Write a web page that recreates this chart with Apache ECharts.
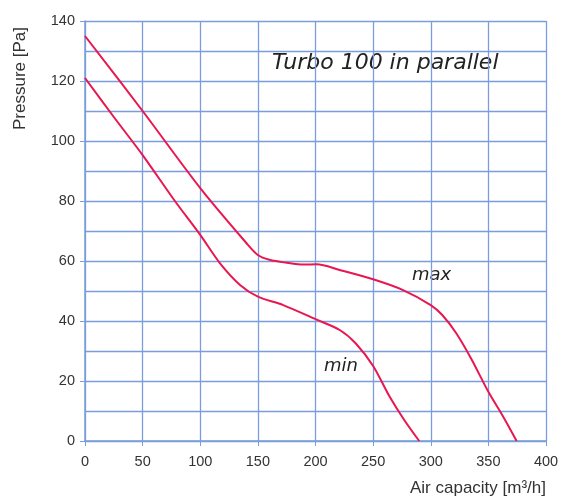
<!DOCTYPE html>
<html>
<head>
<meta charset="utf-8">
<script src="https://cdn.jsdelivr.net/npm/echarts@6/dist/echarts.min.js"></script>
<style>html,body{margin:0;padding:0;background:#fff}#c{width:562px;height:503px}</style>
</head>
<body>
<div id="c"></div>
<script>
var maxFlow = [0, 50, 100, 140, 150, 160, 175, 190, 201, 221, 250, 276, 300, 310, 322, 335, 350, 363, 374.5];
var maxPressure = [135, 110, 84.3, 66, 62, 60.4, 59.4, 58.8, 58.9, 57, 53.9, 50.3, 45.3, 42, 36, 27.5, 16.4, 8, 0];
var minFlow = [0, 25, 50, 78, 100, 117, 134.5, 150, 172, 200, 221, 235, 250, 264, 277, 290];
var minPressure = [121, 108, 95.3, 80, 68.7, 59.3, 52, 48.1, 45.3, 40.6, 37, 32.5, 25, 15, 7, 0];
var xTicks = [0, 50, 100, 150, 200, 250, 300, 350, 400];
var yTicks = [0, 20, 40, 60, 80, 100, 120, 140];

function pairs(xs, ys) { return xs.map(function (x, i) { return [x, ys[i]]; }); }

var gridColor = '#7a9ddb';
var curveColor = '#e8174f';
var chart = echarts.init(document.getElementById('c'), null, {renderer: 'canvas'});
chart.setOption({
  animation: false,
  grid: {left: 85, right: 16, top: 21, bottom: 62},
  xAxis: {
    type: 'value', min: xTicks[0], max: xTicks[xTicks.length - 1], interval: 50,
    axisLine: {show: true, lineStyle: {color: gridColor, width: 1.5}},
    axisTick: {show: true, length: 5, lineStyle: {color: gridColor}},
    axisLabel: {color: '#333', fontSize: 14.5, fontFamily: 'Liberation Sans', margin: 13},
    splitLine: {show: true, lineStyle: {color: gridColor, width: 1.3}}
  },
  yAxis: {
    type: 'value', min: yTicks[0], max: yTicks[yTicks.length - 1], interval: 20,
    axisLine: {show: true, lineStyle: {color: gridColor, width: 1.5}},
    axisTick: {show: true, length: 5, lineStyle: {color: gridColor}},
    axisLabel: {color: '#333', fontSize: 14.5, fontFamily: 'Liberation Sans', margin: 10},
    splitLine: {show: true, lineStyle: {color: gridColor, width: 1.3}},
    minorTick: {show: false, splitNumber: 2},
    minorSplitLine: {show: true, lineStyle: {color: gridColor, width: 1.3}}
  },
  graphic: [
    {type: 'text', left: 272, top: 52, style: {text: 'Turbo 100 in parallel', font: 'italic 22px "DejaVu Sans"', fill: '#222'}},
    {type: 'text', left: 412, top: 266, style: {text: 'max', font: 'italic 18px "DejaVu Sans"', fill: '#222'}},
    {type: 'text', left: 324, top: 357, style: {text: 'min', font: 'italic 18px "DejaVu Sans"', fill: '#222'}},
    {type: 'text', x: 12, y: 130, rotation: Math.PI / 2, style: {text: 'Pressure [Pa]', font: '17px "Liberation Sans"', fill: '#333'}},
    {type: 'text', right: 16, top: 480, style: {text: 'Air capacity [m³/h]', font: '17px "Liberation Sans"', fill: '#333'}}
  ],
  series: [
    {type: 'line', name: 'max', data: pairs(maxFlow, maxPressure), smooth: 0.3, showSymbol: false,
     lineStyle: {color: curveColor, width: 2}},
    {type: 'line', name: 'min', data: pairs(minFlow, minPressure), smooth: 0.3, showSymbol: false,
     lineStyle: {color: curveColor, width: 2}}
  ]
});
</script>
</body>
</html>
